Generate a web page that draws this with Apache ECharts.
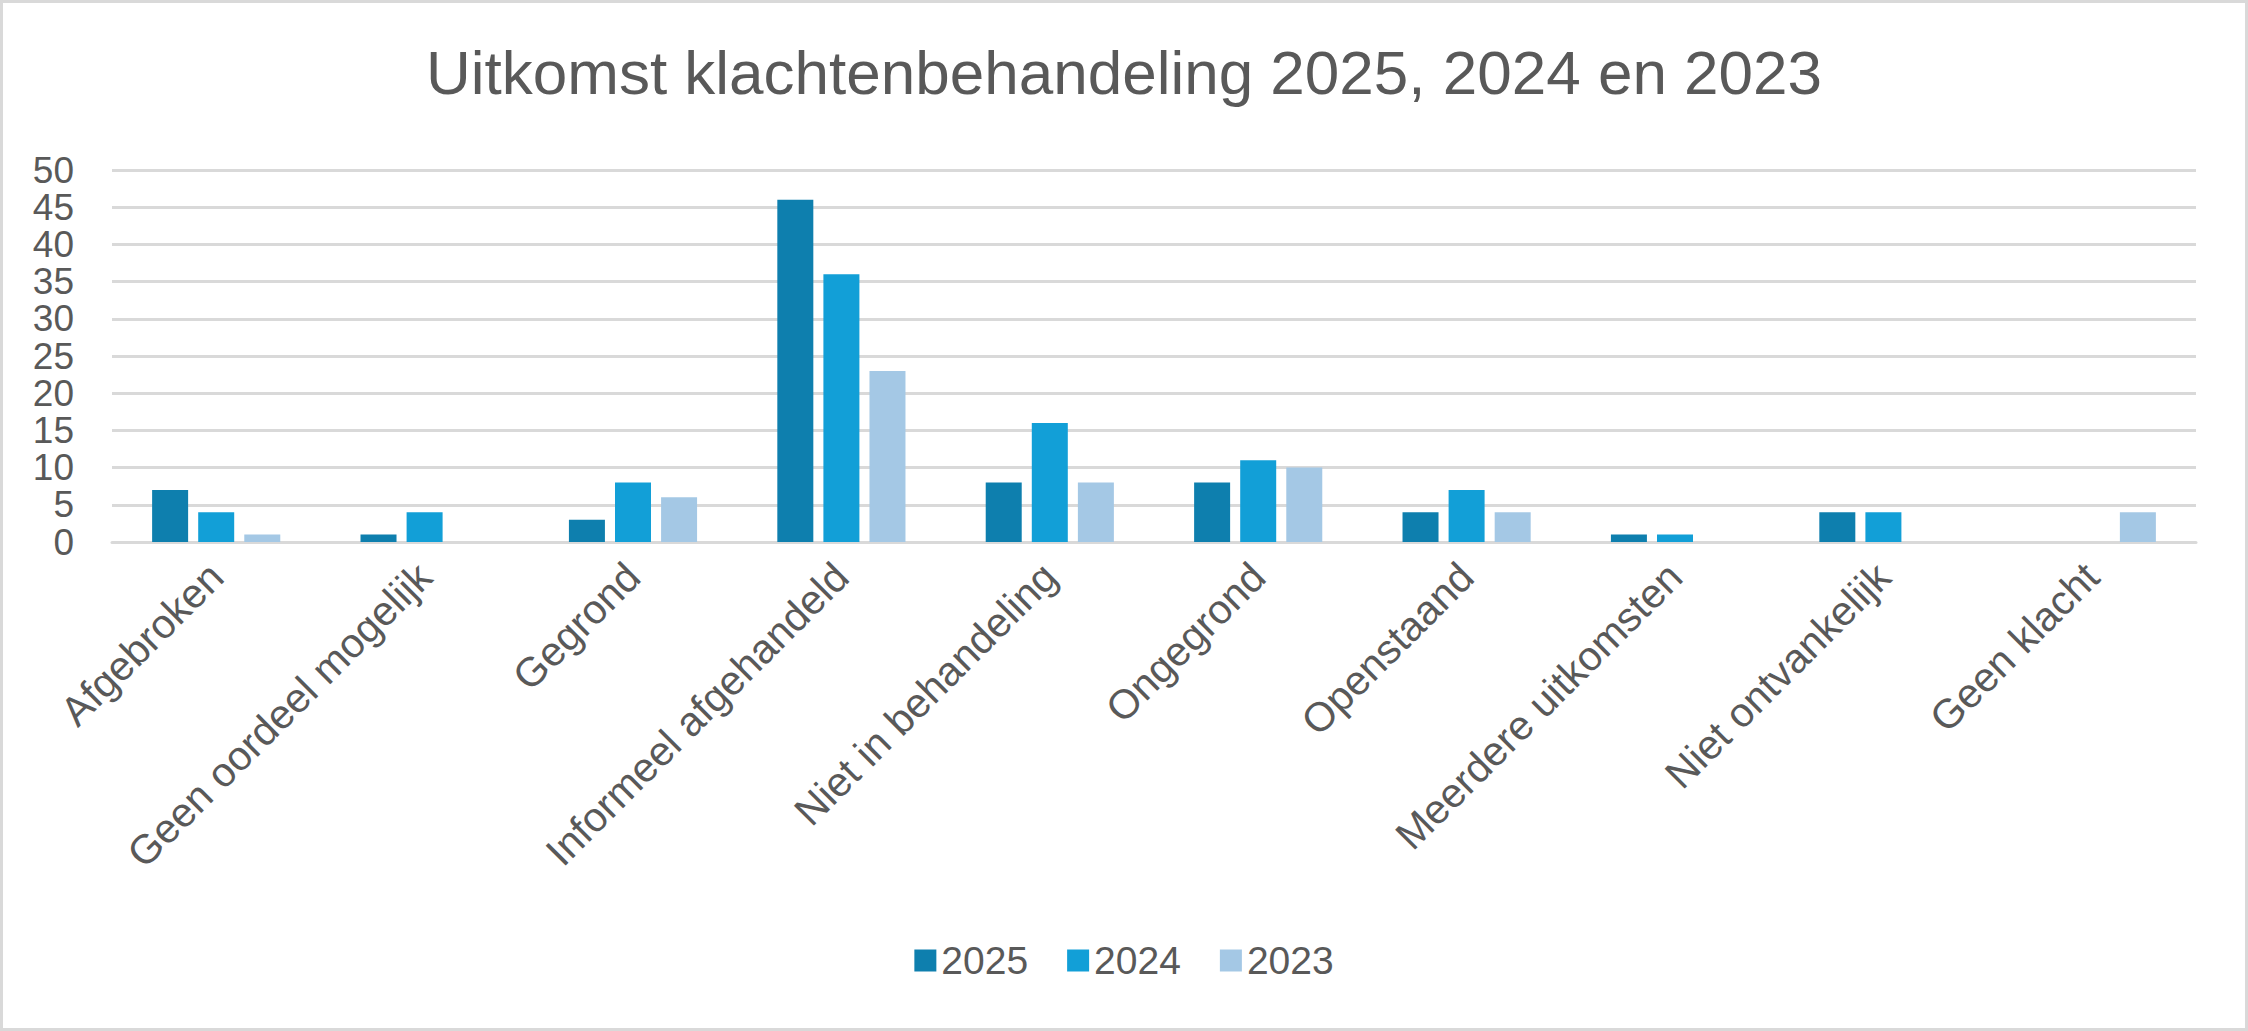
<!DOCTYPE html>
<html>
<head>
<meta charset="utf-8">
<script src="https://cdn.jsdelivr.net/npm/echarts@6/dist/echarts.min.js"></script>
<style>
  html, body { margin: 0; padding: 0; background: #fff; }
  #chart { width: 2248px; height: 1031px; box-sizing: border-box; border: 3px solid #d9d9d9; }
</style>
</head>
<body>
<div id="chart"></div>
<script>
var categories = ['Afgebroken', 'Geen oordeel mogelijk', 'Gegrond', 'Informeel afgehandeld',
  'Niet in behandeling', 'Ongegrond', 'Openstaand', 'Meerdere uitkomsten',
  'Niet ontvankelijk', 'Geen klacht'];
var years = ['2025', '2024', '2023'];
var values2025 = [7, 1, 3, 46, 8, 8, 4, 1, 4, 0];
var values2024 = [4, 4, 8, 36, 16, 11, 7, 1, 4, 0];
var values2023 = [1, 0, 6, 23, 8, 10, 4, 0, 0, 4];
var yTicks = [0, 50, 5]; // min, max, interval

(function() {
  var ink = '#595959';
  var grid = '#d9d9d9';
  var font = "'Liberation Sans', Arial, sans-serif";
  var colors = ['#0e7fae', '#129fd7', '#a4c8e5'];
  var seriesData = [values2025, values2024, values2023];

  var chart = echarts.init(document.getElementById('chart'), null, { renderer: 'svg' });
  chart.setOption({
    animation: false,
    textStyle: { fontFamily: font },
    title: {
      text: 'Uitkomst klachtenbehandeling 2025, 2024 en 2023',
      left: 'center',
      top: 33,
      textStyle: { color: ink, fontSize: 62, fontWeight: 'normal', fontFamily: font }
    },
    legend: {
      data: years,
      bottom: 43,
      left: 'center',
      icon: 'rect',
      itemWidth: 22,
      itemHeight: 22,
      itemGap: 39,
      textStyle: { color: ink, fontSize: 39, fontFamily: font }
    },
    grid: { left: 109, right: 49, top: 167, bottom: 486, containLabel: false },
    xAxis: {
      type: 'category',
      data: categories,
      axisTick: { show: false },
      axisLine: { lineStyle: { color: grid, width: 3 } },
      axisLabel: { rotate: 45, color: ink, fontSize: 41, margin: 28, interval: 0 }
    },
    yAxis: {
      type: 'value',
      min: yTicks[0],
      max: yTicks[1],
      interval: yTicks[2],
      axisLine: { show: false },
      axisTick: { show: false },
      axisLabel: { color: ink, fontSize: 37, margin: 38 },
      splitLine: { lineStyle: { color: grid, width: 3 } }
    },
    series: years.map(function(y, i) {
      return {
        name: y,
        type: 'bar',
        data: seriesData[i],
        barWidth: 36,
        barGap: '28%',
        itemStyle: { color: colors[i] }
      };
    })
  });
  window.addEventListener('resize', function() { chart.resize(); });
})();
</script>
</body>
</html>
